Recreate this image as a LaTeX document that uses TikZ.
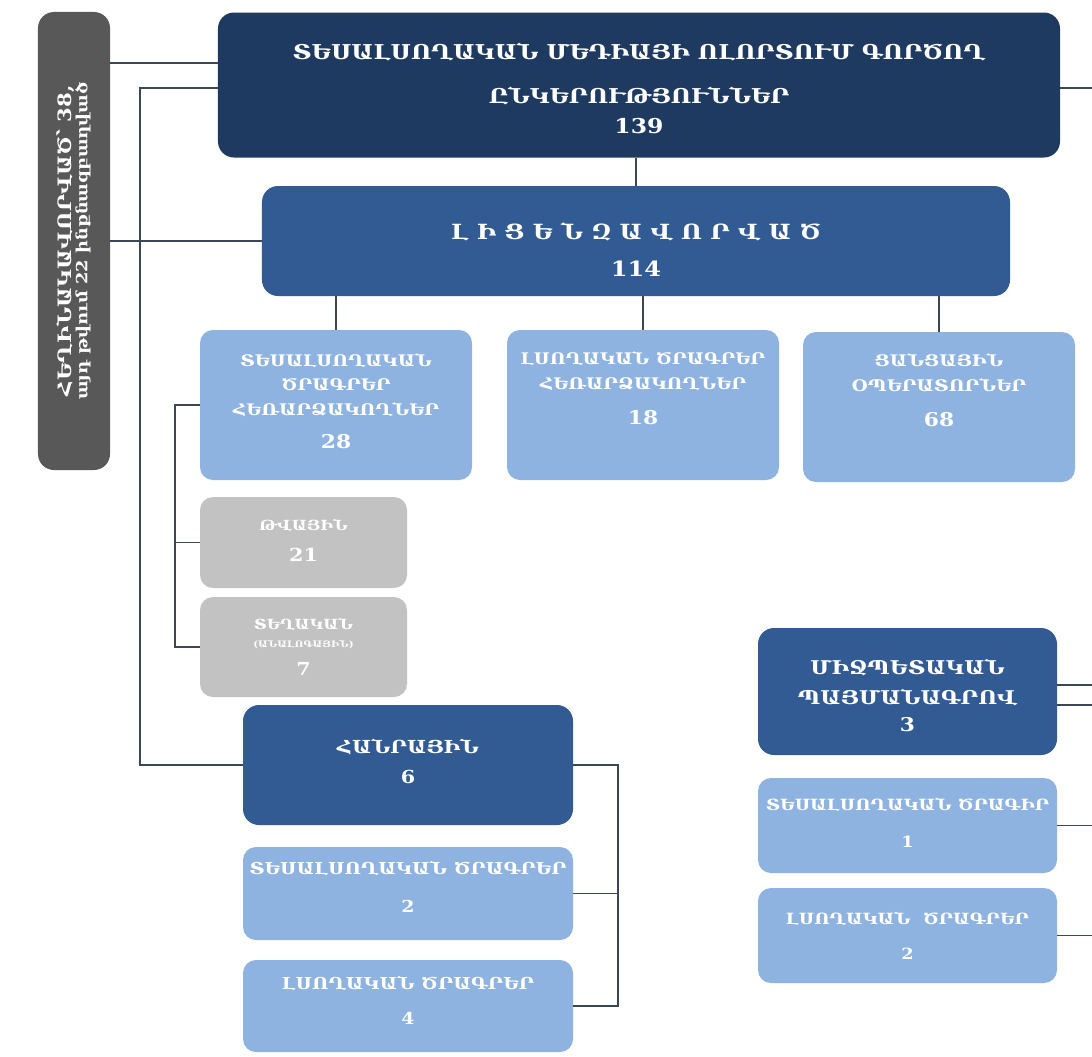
\documentclass[tikz,border=0pt]{standalone}
\usepackage{fontspec}
\setmainfont{DejaVu Serif}[FakeStretch=1.15]
\usetikzlibrary{positioning}

\definecolor{navy}{HTML}{1F3A60}
\definecolor{midblue}{HTML}{325B93}
\definecolor{skyblue}{HTML}{8EB3E0}
\definecolor{softgrey}{HTML}{C2C2C2}
\definecolor{darkgrey}{HTML}{585858}
\definecolor{linecol}{HTML}{3C4756}

\newcommand{\fsz}[2]{\bfseries\fontsize{#1}{#2}\selectfont}

\tikzset{
  box/.style={rounded corners=16bp, inner sep=0pt, align=center, text=white, font=\bfseries},
  navybox/.style={box, fill=navy},
  bluebox/.style={box, fill=midblue},
  skybox/.style={box, fill=skyblue, rounded corners=13bp},
  greybox/.style={box, fill=softgrey, rounded corners=13bp},
  link/.style={draw=linecol, line width=1.8bp}
}

\begin{document}
\begin{tikzpicture}[x=1bp, y=-1bp]
        \useasboundingbox (0,0) rectangle (1092,1057);

        % Ձախ սյունակ
        \node[box, fill=darkgrey, minimum width=72bp, minimum height=458bp] (auth) at (74,241)
            {\rotatebox{90}{\begin{tabular}{@{}c@{}}
              {\fsz{18.5}{24}ՀԵՂԻՆԱԿԱՎՈՐՎԱԾ՝ 38,}\\
              {\fsz{15.5}{20}այդ թվում 22 ինքնազբաղված}
            \end{tabular}}};

        % Վերին մակարդակ
        \node[navybox, minimum width=842bp, minimum height=145bp, font=\fsz{20.5}{30}] (all) at (639,85)
            {\rule{0pt}{24bp}ՏԵՍԱԼՍՈՂԱԿԱՆ ՄԵԴԻԱՅԻ ՈԼՈՐՏՈՒՄ ԳՈՐԾՈՂ\\[14bp]ԸՆԿԵՐՈՒԹՅՈՒՆՆԵՐ\\139};
        \node[bluebox, minimum width=748bp, minimum height=110bp, font=\fsz{21}{38}] (lic) at (636,241)
            {\rule{0pt}{34bp}Լ Ի Ց Ե Ն Զ Ա Վ Ո Ր Վ Ա Ծ\\114};

        % Լիցենզավորվածներ
        \node[skybox, minimum width=272bp, minimum height=150bp, font=\fsz{16}{25}] (tvc) at (336,405)
            {ՏԵՍԱԼՍՈՂԱԿԱՆ\\ԾՐԱԳՐԵՐ\\ՀԵՌԱՐՁԱԿՈՂՆԵՐ\\[8bp]{\fsz{19}{25}28}\rule[-8bp]{0pt}{0pt}};
        \node[skybox, minimum width=272bp, minimum height=150bp, font=\fsz{16}{25}] (rad) at (643,405)
            {ԼՍՈՂԱԿԱՆ ԾՐԱԳՐԵՐ\\ՀԵՌԱՐՁԱԿՈՂՆԵՐ\\[10bp]{\fsz{19}{25}18}\\[8bp]\phantom{0}};
        \node[skybox, minimum width=272bp, minimum height=150bp, font=\fsz{16}{25}] (net) at (939,407)
            {ՑԱՆՑԱՅԻՆ\\ՕՊԵՐԱՏՈՐՆԵՐ\\[10bp]{\fsz{19}{25}68}\\[8bp]\phantom{0}};

        \node[greybox, minimum width=207bp, minimum height=91bp, font=\fsz{14}{31}] (dig) at (303.5,542.5)
            {ԹՎԱՅԻՆ\\{\fsz{18}{31}21}\rule[-5bp]{0pt}{0pt}};
        \node[greybox, minimum width=207bp, minimum height=100bp, font=\fsz{14}{24}] (ana) at (303.5,647)
            {ՏԵՂԱԿԱՆ\\[-6bp]{\fsz{9}{14}(ԱՆԱԼՈԳԱՅԻՆ)}\\[4bp]{\fsz{18}{24}7}};

        % Հանրային
        \node[bluebox, minimum width=330bp, minimum height=120bp, font=\fsz{18}{30}] (pub) at (408,765)
            {ՀԱՆՐԱՅԻՆ\\6\rule[-8bp]{0pt}{0pt}};
        \node[skybox, minimum width=330bp, minimum height=93bp, font=\fsz{16.5}{38}] (pubtv) at (408,893.5)
            {ՏԵՍԱԼՍՈՂԱԿԱՆ ԾՐԱԳՐԵՐ\\2\rule[-14bp]{0pt}{0pt}};
        \node[skybox, minimum width=330bp, minimum height=92bp, font=\fsz{16.5}{35}] (pubrad) at (408,1006)
            {ԼՍՈՂԱԿԱՆ ԾՐԱԳՐԵՐ\\4\rule[-12bp]{0pt}{0pt}};

        % Միջպետական
        \node[bluebox, minimum width=299bp, minimum height=127bp, font=\fsz{19}{30}] (ipt) at (907.5,691.5)
            {\rule{0pt}{24bp}ՄԻՋՊԵՏԱԿԱՆ\\ՊԱՅՄԱՆԱԳՐՈՎ\\[-3bp]3};
        \node[skybox, minimum width=299bp, minimum height=95bp, font=\fsz{15.5}{37}] (ipttv) at (907.5,825.5)
            {ՏԵՍԱԼՍՈՂԱԿԱՆ ԾՐԱԳԻՐ\\1\rule[-6bp]{0pt}{0pt}};
        \node[skybox, minimum width=299bp, minimum height=95bp, font=\fsz{15.5}{35}] (iptrad) at (907.5,935.5)
            {ԼՍՈՂԱԿԱՆ ~ԾՐԱԳՐԵՐ\\2};

        % Կապեր
        \coordinate (trunk) at (140,88);
        \coordinate (edge) at (1092,0);
        \coordinate (fork) at (175,405);
        \coordinate (pubfork) at (618,765);

        \draw[link] (auth.east |- 0,63) -- (all.west |- 0,63);
        \draw[link] (auth.east |- lic.west) -- (lic.west);
        \draw[link] (all.west |- trunk) -- (trunk) |- (pub.west);
        \draw[link] (all.east |- trunk) -- (edge |- trunk);
        \draw[link] (lic.north) -- (lic.north |- all.south);
        \draw[link] (tvc.north) -- (tvc.north |- lic.south);
        \draw[link] (rad.north) -- (rad.north |- lic.south);
        \draw[link] (net.north) -- (net.north |- lic.south);
        \draw[link] (tvc.west) -- (fork) |- (ana.west);
        \draw[link] (fork |- dig.west) -- (dig.west);
        \draw[link] (pub.east) -- (pubfork) |- (pubrad.east);
        \draw[link] (pubfork |- pubtv.east) -- (pubtv.east);
        \draw[link] (ipt.east |- 0,685) -- (edge |- 0,685);
        \draw[link] (ipt.east |- 0,705) -- (edge |- 0,705);
        \draw[link] (ipttv.east) -- (edge |- ipttv.east);
        \draw[link] (iptrad.east) -- (edge |- iptrad.east);
    \end{tikzpicture}
\end{document}
